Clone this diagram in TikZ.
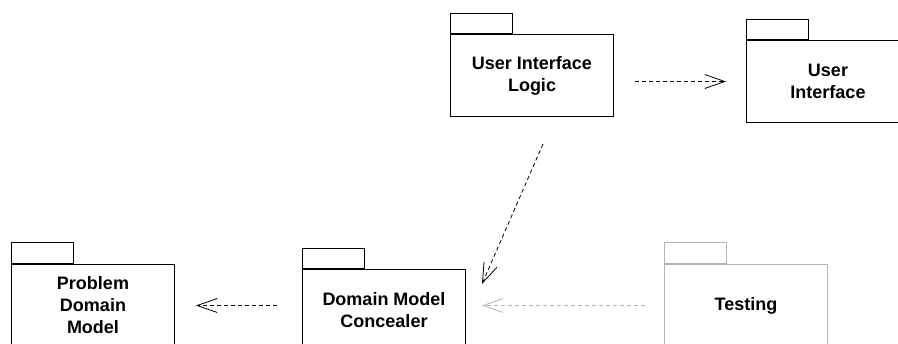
\documentclass[tikz,border=0pt]{standalone}
\usepackage{fontspec}
\setmainfont{Liberation Sans}
\usepackage{tikz}
\usetikzlibrary{arrows.meta, positioning, calc}
\definecolor{pkgline}{RGB}{0, 0, 0}
\definecolor{testgray}{RGB}{180, 180, 180}

\begin{document}
\begin{tikzpicture}[
    x=1pt, y=-1pt,
    every node/.style={font=\fontsize{18}{22}\selectfont\bfseries},
    package/.style={
        rectangle,
        draw=pkgline,
        line width=1pt,
        anchor=north west,
        minimum width=163pt,
        minimum height=82pt,
        inner sep=0pt,
        align=center
    },
    pkgtab/.style={
        draw=pkgline,
        line width=1pt
    },
    dep/.style={
        line width=0.8pt,
        dash pattern=on 4pt off 3pt,
        -{Straight Barb[length=20pt, width=14pt, line width=0.8pt]}
    }
]

\clip (0,0) rectangle (898,344);

% ==================== TOP ROW ====================
\node (uil) [package] at (450, 34) {User Interface\\Logic};
\draw [pkgtab] (uil.north west) rectangle ++(62,-20);

\node (ui) [package] at (746, 40) {User\\Interface};
\draw [pkgtab] (ui.north west) rectangle ++(62,-20);

% ==================== BOTTOM ROW ====================
\node (pdm) [package] at (11, 264) {Problem\\Domain\\Model};
\draw [pkgtab] (pdm.north west) rectangle ++(62,-21);

\node (dmc) [package] at (302, 269) {Domain Model\\Concealer};
\draw [pkgtab] (dmc.north west) rectangle ++(62,-20);

\node (testing) [package, draw=testgray] at (664, 264) {Testing};
\draw [pkgtab, draw=testgray] (testing.north west) rectangle ++(62,-21);

% dependencies
\draw [dep, shorten <=21pt, shorten >=20pt] (uil.east |- ui.west) -- (ui.west);
\draw [dep, shorten <=25pt, shorten >=21pt] (dmc.west |- pdm.east) -- (pdm.east);
\draw [dep, draw=testgray, shorten <=19pt, shorten >=16pt] (testing.west) -- (dmc.east |- testing.west);

\coordinate (uil_out) at ($(uil.south)+(11,27)$);
\coordinate (dmc_in) at ($(dmc.north east)+(16,15)$);
\draw [dep] (uil_out) -- (dmc_in);

\end{tikzpicture}
\end{document}
